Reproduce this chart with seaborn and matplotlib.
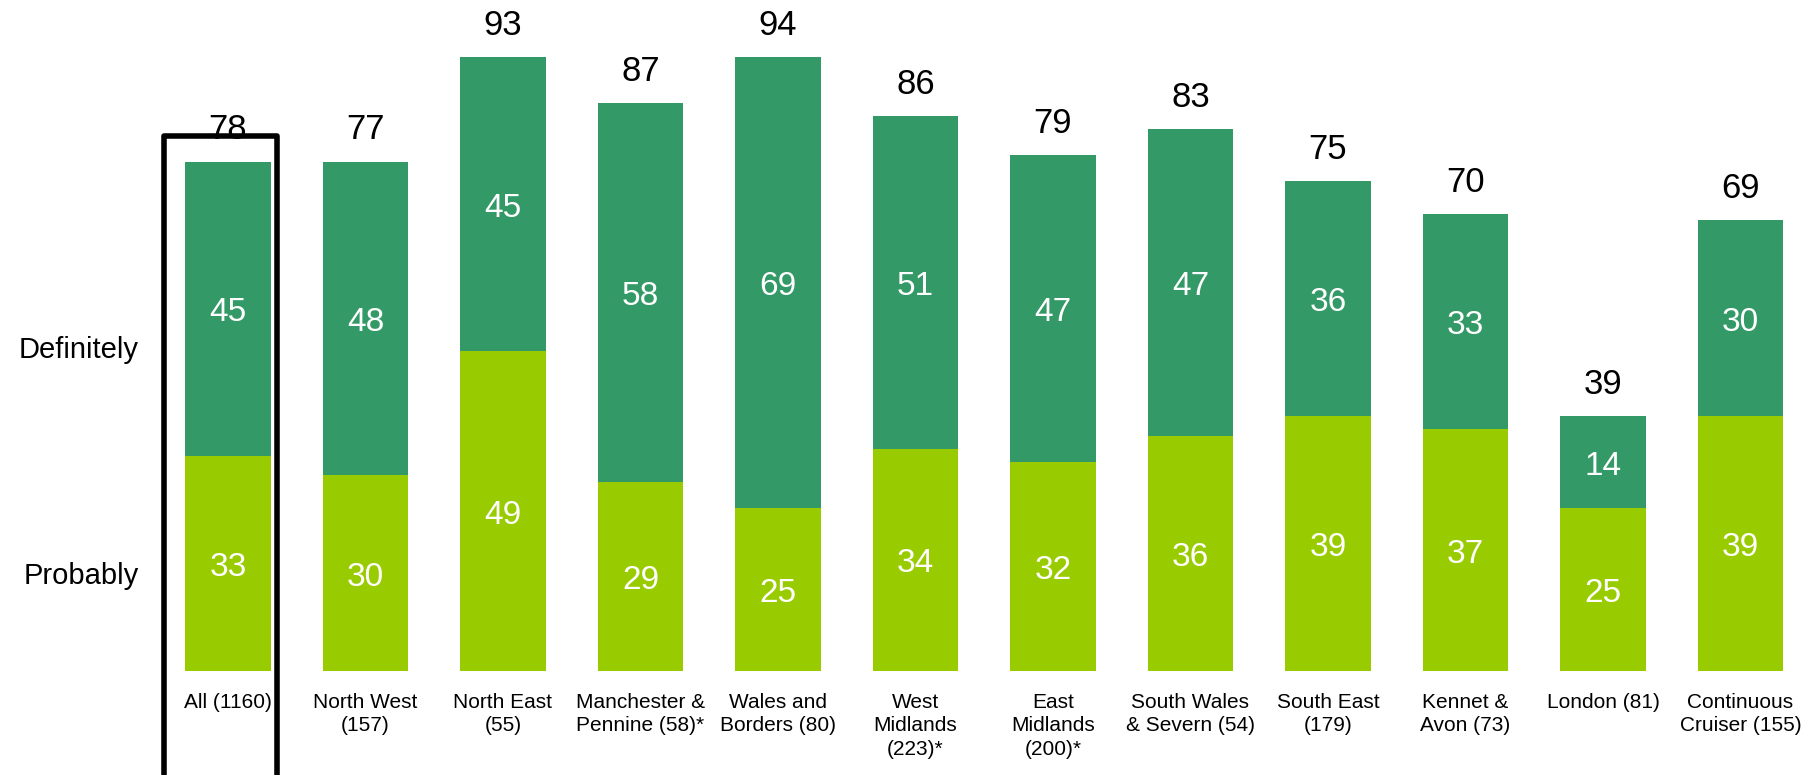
import matplotlib
matplotlib.use("Agg")
import matplotlib.pyplot as plt
from matplotlib.patches import Rectangle
import pandas as pd
import seaborn as sns

# Regions and sample sizes
categories = [
    "All (1160)", "North West\n(157)", "North East\n(55)", "Manchester &\nPennine (58)*",
    "Wales and\nBorders (80)", "West\nMidlands\n(223)*", "East\nMidlands\n(200)*",
    "South Wales\n& Severn (54)", "South East\n(179)", "Kennet &\nAvon (73)",
    "London (81)", "Continuous\nCruiser (155)",
]
probably = [33, 30, 49, 29, 25, 34, 32, 36, 39, 37, 25, 39]
definitely = [45, 48, 45, 58, 69, 51, 47, 47, 36, 33, 14, 30]
totals = [78, 77, 93, 87, 94, 86, 79, 83, 75, 70, 39, 69]

DARK = "#339966"
LIGHT = "#99cc00"

sns.set_theme(style="white")
plt.rcParams["font.family"] = ["Liberation Sans", "DejaVu Sans"]

df = pd.DataFrame({
    "region": categories,
    "probably": probably,
    "definitely": definitely,
})
df["stack_top"] = df["probably"] + df["definitely"]

fig = plt.figure(figsize=(18.04, 7.75), dpi=100)
ax = fig.add_axes([0.0, 0.13419, 1.0, 0.86581])

# Stacked bars: full stack in dark green, probably segment drawn over it
sns.barplot(data=df, x="region", y="stack_top", color=DARK, saturation=1,
            width=0.62, ax=ax, linewidth=0)
sns.barplot(data=df, x="region", y="probably", color=LIGHT, saturation=1,
            width=0.62, ax=ax, linewidth=0)

ax.set_ylim(0, 102.76)
ax.set_xlim(-1.658, 11.462)
ax.set_xlabel("")
ax.set_ylabel("")
ax.set_yticks([])
for s in ax.spines.values():
    s.set_visible(False)

ax.tick_params(axis="x", length=0, pad=16, labelsize=15, labelcolor="black")
for lbl in ax.get_xticklabels():
    lbl.set_linespacing(1.28)

for i in range(len(categories)):
    p, d, t = probably[i], definitely[i], totals[i]
    top = p + d
    ax.annotate(str(p), (i, p / 2), xytext=(0, -9), textcoords="offset points",
                ha="center", va="baseline", color="white", fontsize=24)
    ax.annotate(str(d), (i, p + d / 2), xytext=(0, -9), textcoords="offset points",
                ha="center", va="baseline", color="white", fontsize=24)
    ax.annotate(str(t), (i, top), xytext=(0, 16), textcoords="offset points",
                ha="center", va="baseline", color="black", fontsize=25)

# Row labels on the left
fig.text(139 / 1804, 1 - 358 / 775, "Definitely", ha="right", va="baseline",
         fontsize=21, color="black")
fig.text(139 / 1804, 1 - 584 / 775, "Probably", ha="right", va="baseline",
         fontsize=21, color="black")

# Highlight frame around the overall bar
ax.add_patch(Rectangle((-0.462, -30), 0.815, 112.0, fill=False,
                       edgecolor="black", linewidth=4.0, clip_on=False,
                       joinstyle="round"))

fig.savefig("out.png", dpi=100)
